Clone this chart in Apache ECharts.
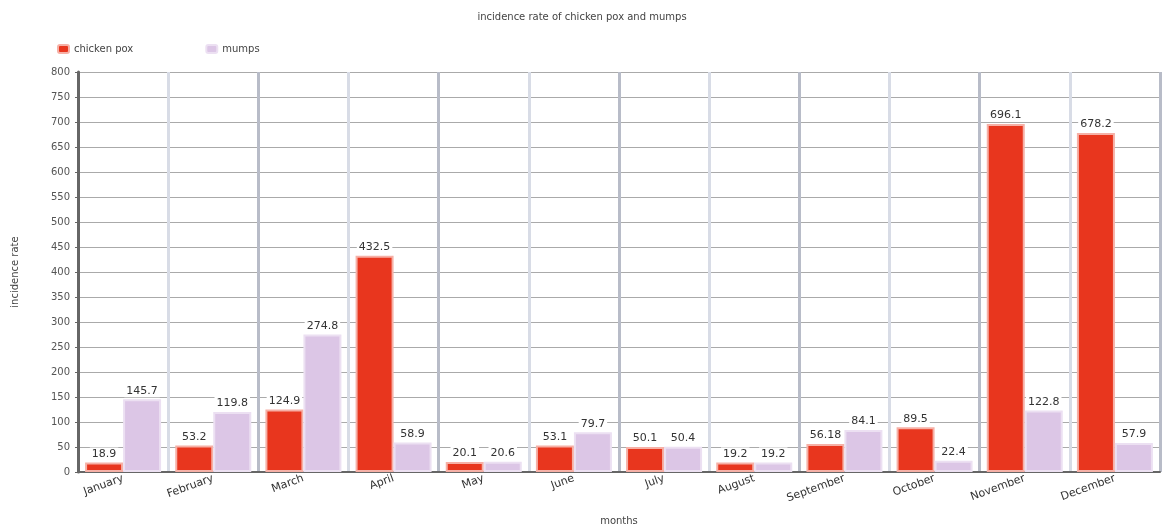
<!DOCTYPE html>
<html>
<head>
<meta charset="utf-8">
<script src="https://cdn.jsdelivr.net/npm/echarts@6/dist/echarts.min.js"></script>
<style>
  html, body { margin: 0; padding: 0; background: #fff; }
  #main { width: 1164px; height: 526px; }
</style>
</head>
<body>
<div id="main"></div>
<script>
var months = ['January', 'February', 'March', 'April', 'May', 'June', 'July', 'August', 'September', 'October', 'November', 'December']
var chickenPox = [18.9, 53.2, 124.9, 432.5, 20.1, 53.1, 50.1, 19.2, 56.18, 89.5, 696.1, 678.2]
var mumps = [145.7, 119.8, 274.8, 58.9, 20.6, 79.7, 50.4, 19.2, 84.1, 22.4, 122.8, 57.9]

var chartDom = document.getElementById('main')
var myChart = echarts.init(chartDom)

var labelStyle = {
  show: true,
  position: 'top',
  distance: 2,
  color: '#333',
  fontSize: 11,
  fontFamily: 'DejaVu Sans',
  backgroundColor: '#fff',
  padding: [1, 2]
}

var option = {
  animation: false,
  title: {
    text: 'incidence rate of chicken pox and mumps',
    left: 'center',
    top: 7,
    textStyle: { fontSize: 10, fontWeight: 'normal', color: '#444', fontFamily: 'DejaVu Sans' }
  },
  legend: {
    left: 52,
    top: 39,
    itemWidth: 11,
    itemHeight: 8,
    itemGap: 72,
    textStyle: { fontSize: 10, color: '#444', fontFamily: 'DejaVu Sans' },
    data: ['chicken pox', 'mumps']
  },
  grid: {
    left: 78,
    right: 4,
    top: 72,
    bottom: 54,
    outerBoundsMode: 'none'
  },
  xAxis: {
    type: 'category',
    data: months,
    name: 'months',
    nameLocation: 'middle',
    nameGap: 44,
    nameTextStyle: { fontSize: 10, color: '#444', fontFamily: 'DejaVu Sans' },
    axisLine: { lineStyle: { color: '#666', width: 2 } },
    axisTick: { show: false },
    axisLabel: { rotate: 20, fontSize: 11, color: '#333', fontFamily: 'DejaVu Sans', margin: 6 },
    splitLine: { show: true, lineStyle: { color: ['#b8bcc8', '#d8dce6'], width: 3 } }
  },
  yAxis: {
    type: 'value',
    min: 0,
    max: 800,
    interval: 50,
    name: 'incidence rate',
    nameLocation: 'middle',
    nameGap: 58,
    nameTextStyle: { fontSize: 10, color: '#444', fontFamily: 'DejaVu Sans' },
    axisLine: { show: true, lineStyle: { color: '#666', width: 3 } },
    axisTick: { show: true, length: 3, lineStyle: { color: '#666' } },
    axisLabel: { fontSize: 10, color: '#555', fontFamily: 'DejaVu Sans' },
    splitLine: { lineStyle: { color: '#aaa', width: 1 } }
  },
  series: [
    {
      name: 'chicken pox',
      type: 'bar',
      data: chickenPox,
      barWidth: 38,
      barGap: '0%',
      itemStyle: { color: '#e8361e', borderColor: '#f6b0a6', borderWidth: 2 },
      label: labelStyle
    },
    {
      name: 'mumps',
      type: 'bar',
      data: mumps,
      barWidth: 38,
      itemStyle: { color: '#dcc6e6', borderColor: '#ece0f2', borderWidth: 2 },
      label: labelStyle
    }
  ]
}
myChart.setOption(option)
</script>
</body>
</html>
